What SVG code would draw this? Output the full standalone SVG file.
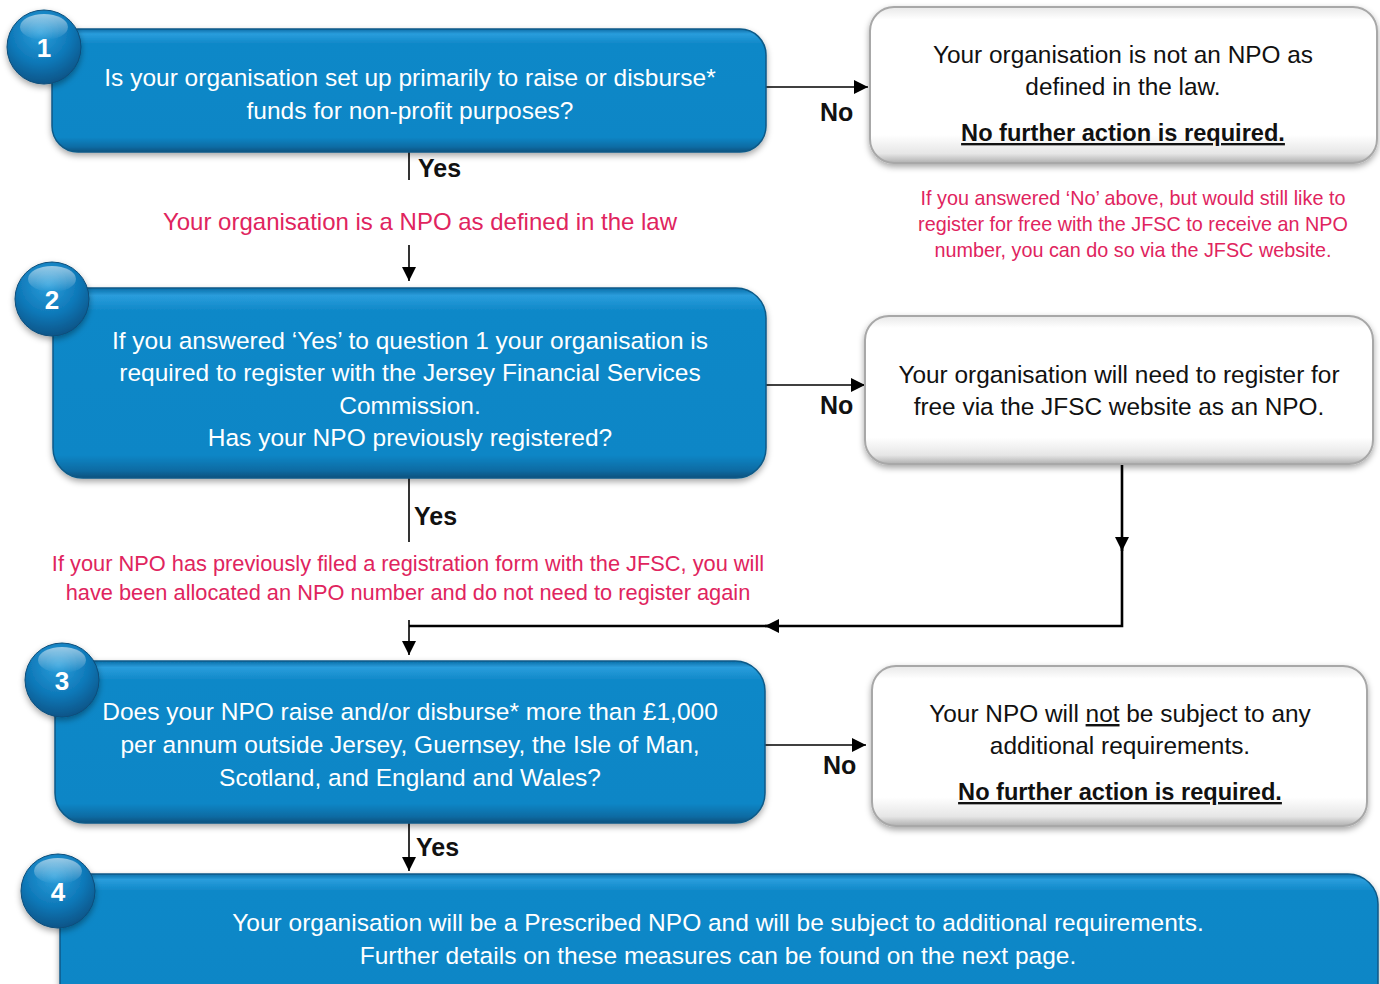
<svg xmlns="http://www.w3.org/2000/svg" width="1380" height="984" viewBox="0 0 1380 984">
<defs>
<style>
.bt{font-family:"Liberation Sans",Arial,sans-serif;font-size:24.5px;fill:#fff;text-anchor:middle}
.wt{font-family:"Liberation Sans",Arial,sans-serif;font-size:24.4px;fill:#111;text-anchor:middle}
.wb{font-family:"Liberation Sans",Arial,sans-serif;font-size:23.6px;font-weight:bold;fill:#111;text-anchor:middle;text-decoration:underline}
.num{font-family:"Liberation Sans",Arial,sans-serif;font-size:26px;font-weight:bold;fill:#fff;text-anchor:middle}
.lbl{font-family:"Liberation Sans",Arial,sans-serif;font-size:25px;font-weight:bold;fill:#111}
.red{font-family:"Liberation Sans",Arial,sans-serif;fill:#e0245e;text-anchor:middle}
.ln{stroke:#000;stroke-width:1.6;fill:none}
.blue{fill:url(#bg);stroke:#0a5a88;stroke-width:1.5;filter:url(#sh)}
.white{fill:url(#wg);stroke:#a8a8a8;stroke-width:2;filter:url(#sh)}
.circ{fill:url(#cg);stroke:#0a4d7a;stroke-width:1;filter:url(#sh)}
</style>
<linearGradient id="bg" x1="0" y1="0" x2="0" y2="1">
<stop offset="0" stop-color="#0a6ea8"/>
<stop offset="0.04" stop-color="#2a9ddc"/>
<stop offset="0.12" stop-color="#0f88c8"/>
<stop offset="0.88" stop-color="#0e86c6"/>
<stop offset="0.96" stop-color="#0b6ba3"/>
<stop offset="1" stop-color="#08527e"/>
</linearGradient>
<linearGradient id="wg" x1="0" y1="0" x2="0" y2="1">
<stop offset="0" stop-color="#e8e8e8"/>
<stop offset="0.08" stop-color="#ffffff"/>
<stop offset="0.82" stop-color="#ffffff"/>
<stop offset="0.94" stop-color="#e6e6e6"/>
<stop offset="1" stop-color="#b0b0b0"/>
</linearGradient>
<radialGradient id="cg" cx="0.45" cy="0.3" r="0.75">
<stop offset="0" stop-color="#2b9fdc"/>
<stop offset="0.55" stop-color="#0e78b8"/>
<stop offset="1" stop-color="#0a4f80"/>
</radialGradient>
<linearGradient id="hl" x1="0" y1="0" x2="0" y2="1">
<stop offset="0" stop-color="#ffffff" stop-opacity="0.55"/>
<stop offset="1" stop-color="#ffffff" stop-opacity="0"/>
</linearGradient>
<filter id="sh" x="-10%" y="-10%" width="120%" height="130%">
<feDropShadow dx="0" dy="3" stdDeviation="3" flood-color="#000" flood-opacity="0.35"/>
</filter>
<marker id="ah" markerUnits="userSpaceOnUse" markerWidth="14" markerHeight="14" viewBox="0 0 10 10" refX="10" refY="5" orient="auto">
<path d="M0,0 L10,5 L0,10 z" fill="#000"/>
</marker>
</defs>
<rect width="1380" height="984" fill="#fff"/>

<g id="connectors">
<line class="ln" x1="766" y1="87" x2="868" y2="87" marker-end="url(#ah)"/>
<line class="ln" x1="409" y1="152" x2="409" y2="180"/>
<line class="ln" x1="409" y1="245" x2="409" y2="281" marker-end="url(#ah)"/>
<line class="ln" x1="766" y1="385" x2="865" y2="385" marker-end="url(#ah)"/>
<line class="ln" x1="409" y1="478" x2="409" y2="542"/>
<line class="ln" style="stroke-width:2.6" x1="1122" y1="464" x2="1122" y2="551" marker-end="url(#ah)"/>
<polyline class="ln" style="stroke-width:2.6" points="1122,545 1122,626 765,626" marker-end="url(#ah)"/>
<line class="ln" style="stroke-width:2.6" x1="770" y1="626" x2="409" y2="626"/>
<line class="ln" x1="409" y1="620" x2="409" y2="655" marker-end="url(#ah)"/>
<line class="ln" x1="765" y1="745" x2="866" y2="745" marker-end="url(#ah)"/>
<line class="ln" x1="409" y1="823" x2="409" y2="871" marker-end="url(#ah)"/>
<text class="lbl" x="820" y="121">No</text>
<text class="lbl" x="418" y="177">Yes</text>
<text class="lbl" x="820" y="414">No</text>
<text class="lbl" x="414" y="525">Yes</text>
<text class="lbl" x="823" y="774">No</text>
<text class="lbl" x="416" y="856">Yes</text>
</g>

<g id="node1">
<rect class="blue" x="52" y="29" width="714" height="123" rx="26"/>
<text class="bt" x="410" y="86">Is your organisation set up primarily to raise or disburse*</text>
<text class="bt" x="410" y="119">funds for non-profit purposes?</text>
<circle class="circ" cx="44" cy="47" r="37"/>
<ellipse cx="44" cy="27" rx="24" ry="13" fill="url(#hl)"/>
<text class="num" x="44" y="57">1</text>
</g>

<g id="note-npo">
<text class="red" x="420" y="230" font-size="24">Your organisation is a NPO as defined in the law</text>
</g>

<g id="nodeA">
<rect class="white" x="870" y="7" width="507" height="156" rx="24"/>
<text class="wt" x="1123" y="63">Your organisation is not an NPO as</text>
<text class="wt" x="1123" y="95">defined in the law.</text>
<text class="wb" x="1123" y="141">No further action is required.</text>
</g>

<g id="note-right">
<text class="red" font-size="19.8" x="1133" y="205">If you answered ‘No’ above, but would still like to</text>
<text class="red" font-size="19.8" x="1133" y="231">register for free with the JFSC to receive an NPO</text>
<text class="red" font-size="19.8" x="1133" y="257">number, you can do so via the JFSC website.</text>
</g>

<g id="node2">
<rect class="blue" x="53" y="288" width="713" height="190" rx="30"/>
<text class="bt" x="410" y="349">If you answered ‘Yes’ to question 1 your organisation is</text>
<text class="bt" x="410" y="381">required to register with the Jersey Financial Services</text>
<text class="bt" x="410" y="414">Commission.</text>
<text class="bt" x="410" y="446">Has your NPO previously registered?</text>
<circle class="circ" cx="52" cy="299" r="37"/>
<ellipse cx="52" cy="279" rx="24" ry="13" fill="url(#hl)"/>
<text class="num" x="52" y="309">2</text>
</g>

<g id="nodeB">
<rect class="white" x="865" y="316" width="508" height="148" rx="24"/>
<text class="wt" x="1119" y="383">Your organisation will need to register for</text>
<text class="wt" x="1119" y="415">free via the JFSC website as an NPO.</text>
</g>

<g id="note-prev">
<text class="red" font-size="21.8" x="408" y="571">If your NPO has previously filed a registration form with the JFSC, you will</text>
<text class="red" font-size="21.8" x="408" y="600">have been allocated an NPO number and do not need to register again</text>
</g>

<g id="node3">
<rect class="blue" x="55" y="661" width="710" height="162" rx="30"/>
<text class="bt" x="410" y="720">Does your NPO raise and/or disburse* more than £1,000</text>
<text class="bt" x="410" y="753">per annum outside Jersey, Guernsey, the Isle of Man,</text>
<text class="bt" x="410" y="786">Scotland, and England and Wales?</text>
<circle class="circ" cx="62" cy="680" r="37"/>
<ellipse cx="62" cy="660" rx="24" ry="13" fill="url(#hl)"/>
<text class="num" x="62" y="690">3</text>
</g>

<g id="nodeC">
<rect class="white" x="872" y="666" width="495" height="160" rx="24"/>
<text class="wt" x="1120" y="722">Your NPO will <tspan style="text-decoration:underline">not</tspan> be subject to any</text>
<text class="wt" x="1120" y="754">additional requirements.</text>
<text class="wb" x="1120" y="800">No further action is required.</text>
</g>

<g id="node4">
<rect class="blue" x="60" y="874" width="1318" height="140" rx="30"/>
<text class="bt" x="718" y="931">Your organisation will be a Prescribed NPO and will be subject to additional requirements.</text>
<text class="bt" x="718" y="964">Further details on these measures can be found on the next page.</text>
<circle class="circ" cx="58" cy="891" r="37"/>
<ellipse cx="58" cy="871" rx="24" ry="13" fill="url(#hl)"/>
<text class="num" x="58" y="901">4</text>
</g>
</svg>
